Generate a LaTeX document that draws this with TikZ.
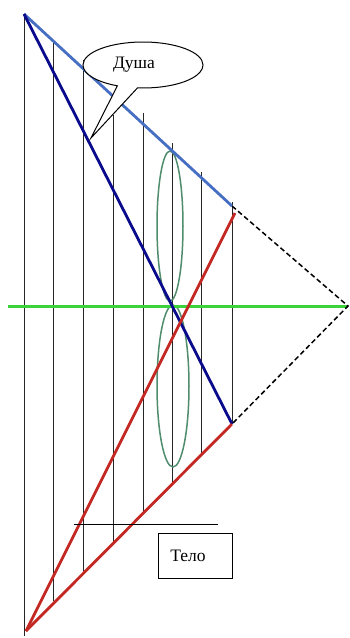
\documentclass[tikz,border=0pt]{standalone}
\usepackage{fontspec}
\setmainfont{Liberation Serif}
\usetikzlibrary{shapes.callouts}
\definecolor{lblue}{RGB}{70,110,195}
\definecolor{dblue}{RGB}{10,10,140}
\definecolor{redl}{RGB}{195,40,35}
\definecolor{greenl}{RGB}{60,210,60}
\definecolor{ellg}{RGB}{80,140,110}
\begin{document}
\begin{tikzpicture}[x=1pt,y=-1pt,
  vline/.style={draw=black!85, line width=1pt},
  fatline/.style={line width=2.8pt},
  dashline/.style={draw=black, line width=1.5pt, dash pattern=on 5pt off 3pt},
  lobe/.style={draw=ellg, line width=1.5pt},
  txt/.style={font=\fontsize{17.5}{19}\selectfont}]
\fill[white] (0,0) rectangle (350,638);
\useasboundingbox (0,0) rectangle (350,638);
% vertical lines
\foreach \i/\x/\t/\b in {1/24/14/636, 2/53/40/601, 3/83/60/571, 4/113/115/542,
                         5/143/113/513, 6/172/143/483, 7/201/172/454, 8/232/202/424}{
  \coordinate (t\i) at (\x,\t);
  \coordinate (b\i) at (\x,\b);
  \draw[vline] (t\i) -- (b\i);
}
% key points
\coordinate (top) at (24,14);
\coordinate (bot) at (26,631);
\coordinate (ub) at (232,206);
\coordinate (ur) at (235,213);
\coordinate (lb) at (232,424);
\coordinate (apex) at (348,306);
\coordinate (gl) at (8,306);
% green ellipses
\draw[lobe] (170,226) ellipse [x radius=13, y radius=75];
\draw[lobe] (173,386) ellipse [x radius=16, y radius=81];
% green axis
\draw[draw=greenl, line width=3pt] (gl) -- (apex);
% dashed
\draw[dashline] (ub) -- (apex) -- (lb);
% coloured lines
\draw[fatline, draw=lblue] (top) -- (ub);
\draw[fatline, draw=dblue] (top) -- (lb);
\draw[fatline, draw=redl] (bot) -- (ur);
\draw[fatline, draw=redl] (bot) -- (lb);
% body
\coordinate (hl1) at (74,524);
\coordinate (hl2) at (218,524);
\draw[draw=black, line width=1pt] (hl1) -- (hl2);
\node[draw=black, line width=1pt, minimum width=74pt, minimum height=45pt, inner sep=0pt, txt]
  (telo) at (195,555.5) {Тело\hspace*{14pt}};
% soul callout
\coordinate (tip) at (91,138);
\node[ellipse callout, draw=black, line width=1pt, fill=white, minimum width=120pt,
  minimum height=46pt, inner sep=0pt, callout absolute pointer={(tip)},
  callout pointer arc=20, txt] (dusha) at (143,65) {\hspace*{-18pt}Душа};
\end{tikzpicture}
\end{document}
